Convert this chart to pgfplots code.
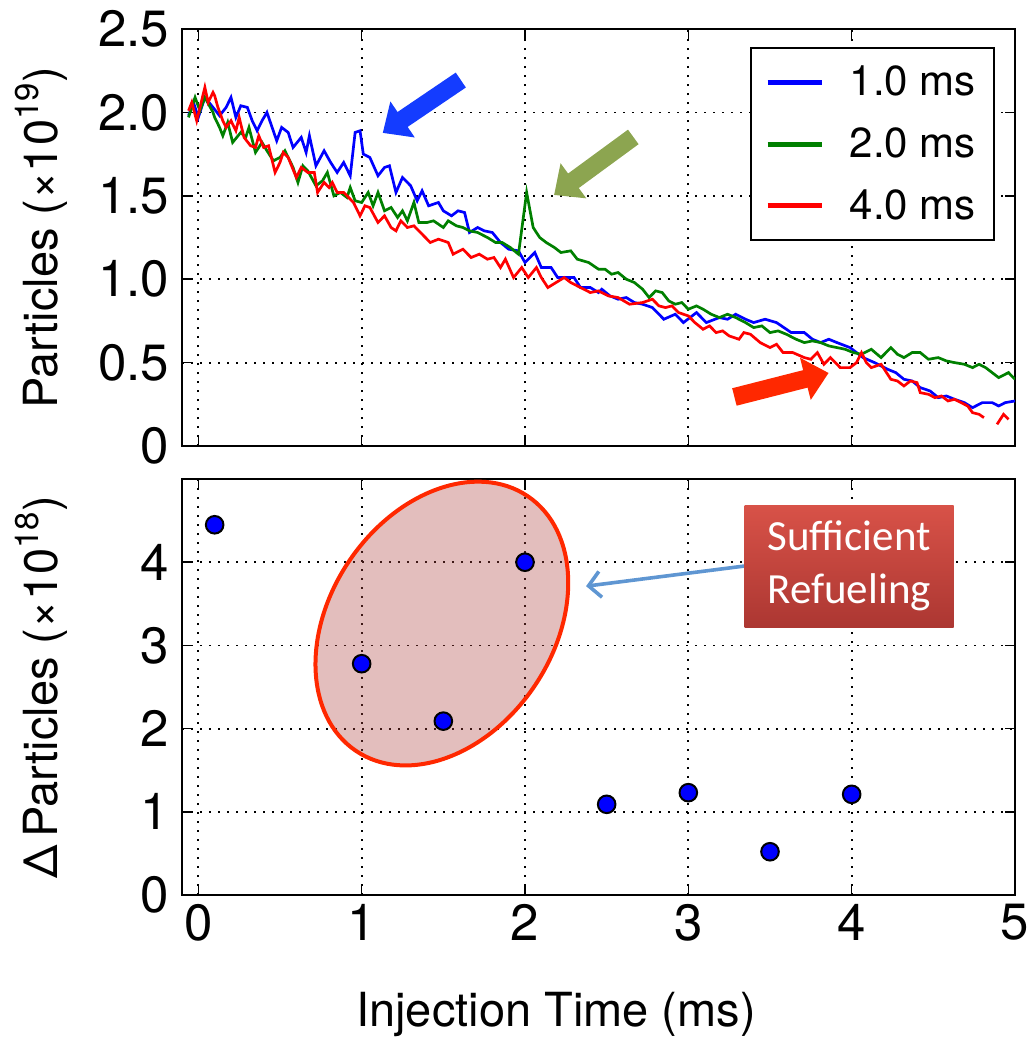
\documentclass[border=0pt]{standalone}
\usepackage{fontspec}
\setmainfont{TeX Gyre Heros}
\newfontfamily\calibri{Carlito}
\usepackage{pgfplots}
\pgfplotsset{compat=1.18}
\usetikzlibrary{arrows.meta}

\definecolor{bblue}{RGB}{0,0,255}
\definecolor{ggreen}{RGB}{0,128,0}
\definecolor{rred}{RGB}{255,0,0}
\definecolor{ellfill}{RGB}{175,70,65}
\definecolor{ellline}{RGB}{255,40,0}
\definecolor{boxtop}{RGB}{216,82,72}
\definecolor{boxbot}{RGB}{172,55,50}
\definecolor{arrblue}{RGB}{95,150,210}
\definecolor{annblue}{RGB}{20,60,255}
\definecolor{anngreen}{RGB}{140,165,80}
\definecolor{annred}{RGB}{255,40,0}

\pgfplotsset{
  every axis/.append style={
    scale only axis, width=416.5pt,
    xmin=-0.1, xmax=5,
    axis line style={line width=1pt},
    tick style={line width=0.8pt, black},
    major tick length=5pt,
    tick align=inside,
    grid=major,
    major grid style={line width=0.9pt, black, dash pattern=on 1pt off 3.5pt},
    tick label style={font=\fontsize{25.5}{30}\selectfont},
    label style={font=\fontsize{23.5}{28}\selectfont},
    /pgf/number format/assume math mode=true,
    xtick={0,1,2,3,4,5},
    yticklabel style={xshift=-3pt},
    xticklabel style={yshift=-1pt},
  }
}

\begin{document}
\begin{tikzpicture}
\useasboundingbox (0,0) rectangle (514.5pt,-519.5pt);

\begin{axis}[at={(91pt,-14.5pt)}, anchor=north west, height=208.5pt,
  ymin=0, ymax=2.5, ytick={0,0.5,1,1.5,2,2.5},
  yticklabels={0,0.5,1.0,1.5,2.0,2.5},
  xticklabels={},
  ylabel={Particles (×10\textsuperscript{19})},
  ylabel style={at={(axis description cs:-0.15,0.5)}, anchor=base},
  legend style={at={(axis description cs:0.976,0.957)}, anchor=north east,
    draw=black, line width=1pt, font=\fontsize{21}{25}\selectfont,
    inner xsep=7pt, inner ysep=7pt, row sep=10.5pt,
    /tikz/every odd column/.append style={column sep=11pt}},
  legend cell align=left,
  legend image code/.code={\draw[line width=2.4pt] (0pt,0pt) -- (27pt,0pt);},
  unbounded coords=jump,
]
\addplot[bblue, line width=1.35pt] coordinates {
(-0.06,1.98) (-0.03,2.06) (0.0,1.97) (0.04,2.09) (0.09,2.03) (0.13,1.98) (0.17,2.03) (0.2,2.09) (0.23,1.97) (0.26,2.04) (0.3,2.03) (0.33,1.95) (0.36,1.89) (0.39,1.95) (0.42,2.0) (0.48,1.83) (0.51,1.91) (0.55,1.88) (0.58,1.79) (0.63,1.85) (0.66,1.76) (0.68,1.86) (0.72,1.68) (0.77,1.77) (0.81,1.70) (0.85,1.64) (0.89,1.70) (0.93,1.62) (0.96,1.88) (0.99,1.89) (1.01,1.75) (1.05,1.73) (1.1,1.62) (1.14,1.67) (1.17,1.68) (1.21,1.52) (1.25,1.61) (1.30,1.56) (1.34,1.47) (1.37,1.53) (1.41,1.44) (1.47,1.46) (1.50,1.41) (1.55,1.38) (1.59,1.41) (1.63,1.40) (1.66,1.28) (1.71,1.31) (1.75,1.29) (1.8,1.28) (1.85,1.22) (1.90,1.18) (1.96,1.17) (2.0,1.10) (2.06,1.16) (2.10,1.07) (2.16,1.07) (2.2,1.01) (2.26,1.01) (2.30,1.01) (2.34,0.95) (2.40,0.95) (2.45,0.92) (2.47,0.94) (2.52,0.90) (2.57,0.88) (2.62,0.89) (2.67,0.86) (2.72,0.85) (2.78,0.83) (2.85,0.76) (2.92,0.79) (2.97,0.74) (3.05,0.80) (3.11,0.74) (3.19,0.77) (3.24,0.76) (3.29,0.79) (3.35,0.76) (3.40,0.74) (3.47,0.76) (3.54,0.74) (3.63,0.68) (3.71,0.68) (3.76,0.64) (3.81,0.62) (3.86,0.64) (3.91,0.62) (3.99,0.59) (4.07,0.53) (4.14,0.50) (4.22,0.46) (4.27,0.44) (4.32,0.40) (4.37,0.39) (4.42,0.35) (4.48,0.33) (4.53,0.29) (4.58,0.30) (4.63,0.28) (4.69,0.26) (4.74,0.23) (4.80,0.26) (4.86,0.26) (4.90,0.24) (4.94,0.26) (5.0,0.27)
};
\addlegendentry{1.0 ms}
\addplot[ggreen, line width=1.35pt] coordinates {
(-0.06,1.97) (-0.02,2.09) (0.01,2.01) (0.04,2.09) (0.09,2.0) (0.1,1.97) (0.13,1.91) (0.15,1.86) (0.18,1.94) (0.21,1.82) (0.26,1.88) (0.29,1.85) (0.31,1.91) (0.35,1.76) (0.39,1.82) (0.42,1.77) (0.46,1.71) (0.5,1.73) (0.53,1.77) (0.58,1.67) (0.61,1.58) (0.64,1.68) (0.67,1.65) (0.72,1.56) (0.76,1.59) (0.79,1.64) (0.83,1.50) (0.87,1.52) (0.91,1.49) (0.93,1.55) (0.96,1.47) (1.0,1.46) (1.04,1.52) (1.07,1.44) (1.1,1.52) (1.14,1.41) (1.18,1.43) (1.22,1.37) (1.25,1.41) (1.28,1.35) (1.32,1.46) (1.35,1.34) (1.4,1.34) (1.44,1.35) (1.5,1.31) (1.53,1.35) (1.58,1.32) (1.62,1.31) (1.66,1.29) (1.71,1.28) (1.77,1.25) (1.82,1.22) (1.86,1.22) (1.91,1.19) (1.96,1.15) (2.01,1.52) (2.05,1.31) (2.09,1.25) (2.13,1.22) (2.18,1.19) (2.22,1.16) (2.28,1.17) (2.32,1.12) (2.39,1.10) (2.45,1.06) (2.49,1.06) (2.53,1.03) (2.57,1.04) (2.62,1.00) (2.67,0.98) (2.72,0.94) (2.76,0.89) (2.80,0.93) (2.84,0.92) (2.88,0.87) (2.92,0.85) (2.96,0.86) (3.0,0.82) (3.05,0.84) (3.09,0.82) (3.14,0.79) (3.19,0.77) (3.24,0.79) (3.29,0.77) (3.35,0.74) (3.40,0.71) (3.45,0.72) (3.50,0.68) (3.55,0.69) (3.60,0.67) (3.66,0.64) (3.71,0.62) (3.76,0.63) (3.81,0.62) (3.86,0.60) (3.91,0.59) (3.96,0.58) (4.01,0.56) (4.06,0.55) (4.12,0.58) (4.18,0.53) (4.24,0.59) (4.28,0.55) (4.32,0.53) (4.37,0.56) (4.42,0.56) (4.47,0.52) (4.53,0.53) (4.58,0.51) (4.63,0.50) (4.69,0.49) (4.74,0.47) (4.78,0.49) (4.82,0.47) (4.86,0.44) (4.90,0.41) (4.96,0.44) (5.0,0.40)
};
\addlegendentry{2.0 ms}
\addplot[rred, line width=1.35pt] coordinates {
(-0.06,2.01) (-0.04,2.06) (-0.01,1.95) (0.01,2.03) (0.04,2.15) (0.06,2.06) (0.09,2.12) (0.1,2.10) (0.12,2.03) (0.15,1.95) (0.17,1.91) (0.2,1.95) (0.23,1.89) (0.25,1.97) (0.28,1.85) (0.32,1.80) (0.35,1.79) (0.37,1.86) (0.40,1.79) (0.43,1.80) (0.47,1.64) (0.50,1.70) (0.52,1.76) (0.55,1.73) (0.6,1.61) (0.63,1.67) (0.67,1.64) (0.71,1.64) (0.73,1.52) (0.77,1.58) (0.80,1.55) (0.82,1.58) (0.85,1.52) (0.89,1.52) (0.92,1.49) (0.95,1.46) (0.99,1.38) (1.02,1.44) (1.05,1.43) (1.1,1.34) (1.14,1.38) (1.18,1.31) (1.21,1.29) (1.24,1.35) (1.28,1.31) (1.32,1.32) (1.36,1.28) (1.42,1.22) (1.47,1.24) (1.53,1.22) (1.56,1.15) (1.62,1.18) (1.67,1.13) (1.72,1.15) (1.77,1.12) (1.81,1.13) (1.85,1.07) (1.88,1.12) (1.93,1.01) (1.98,1.07) (2.02,1.01) (2.07,1.07) (2.10,1.01) (2.14,0.95) (2.19,0.98) (2.24,1.01) (2.28,0.98) (2.34,0.95) (2.40,0.92) (2.45,0.93) (2.51,0.90) (2.57,0.89) (2.64,0.85) (2.72,0.86) (2.78,0.88) (2.82,0.84) (2.86,0.83) (2.90,0.84) (2.94,0.80) (3.0,0.78) (3.04,0.74) (3.09,0.70) (3.13,0.72) (3.17,0.68) (3.21,0.69) (3.25,0.66) (3.31,0.64) (3.34,0.68) (3.38,0.67) (3.44,0.62) (3.50,0.59) (3.54,0.61) (3.58,0.56) (3.64,0.56) (3.71,0.53) (3.75,0.52) (3.79,0.56) (3.83,0.49) (3.87,0.53) (3.93,0.47) (3.99,0.47) (4.03,0.50) (4.06,0.56) (4.09,0.50) (4.12,0.47) (4.18,0.49) (4.24,0.40) (4.28,0.39) (4.32,0.36) (4.36,0.39) (4.40,0.38) (4.42,0.32) (4.47,0.31) (4.51,0.29) (4.55,0.30) (4.59,0.27) (4.63,0.28) (4.67,0.26) (4.71,0.24) (4.74,0.20) (4.78,0.19) (4.81,0.17) (4.85,nan) (4.89,0.13) (4.93,0.19) (4.96,0.16)
};
\addlegendentry{4.0 ms}
\draw[annblue, line width=9pt, -{Triangle[width=21pt,length=12pt]}] (axis cs:1.607,2.194) -- (axis cs:1.129,1.877);
\draw[anngreen, line width=9pt, -{Triangle[width=21pt,length=12pt]}] (axis cs:2.663,1.853) -- (axis cs:2.178,1.505);
\draw[annred, line width=9pt, -{Triangle[width=21pt,length=12pt]}] (axis cs:3.282,0.294) -- (axis cs:3.859,0.438);
\end{axis}

\begin{axis}[at={(91pt,-239.5pt)}, anchor=north west, height=208pt,
  ymin=0, ymax=5, ytick={0,1,2,3,4},
  xlabel={Injection Time (ms)},
  xlabel style={at={(axis description cs:0.449,-0.317)}, anchor=base},
  ylabel={Δ\,Particles (×10\textsuperscript{18})},
  ylabel style={at={(axis description cs:-0.15,0.5)}, anchor=base},
]
\addplot[only marks, mark=*, mark size=4.4pt, mark options={fill=blue, draw=black, line width=1pt}] coordinates {
(0.1,4.45) (1,2.78) (1.5,2.09) (2,4.0) (2.5,1.09) (3,1.23) (3.5,0.52) (4,1.21)
};
\draw[ellline, line width=2pt, fill=ellfill, fill opacity=0.35, shift={(axis cs:1.435,3.10)}, rotate=56] (0,0) ellipse [x radius=76.8pt, y radius=55.9pt];
\draw[arrblue, line width=1.8pt, -{Straight Barb[length=6pt,width=13pt]}] (axis cs:3.344,3.954) -- (axis cs:2.374,3.712);
\node[top color=boxtop, bottom color=boxbot, minimum width=104.5pt, minimum height=61pt, text=white, font=\calibri\fontsize{21.5}{26.5}\selectfont, align=center, inner sep=0pt] at (axis cs:3.985,3.954) {Sufficient\\Refueling};
\end{axis}
\end{tikzpicture}
\end{document}
